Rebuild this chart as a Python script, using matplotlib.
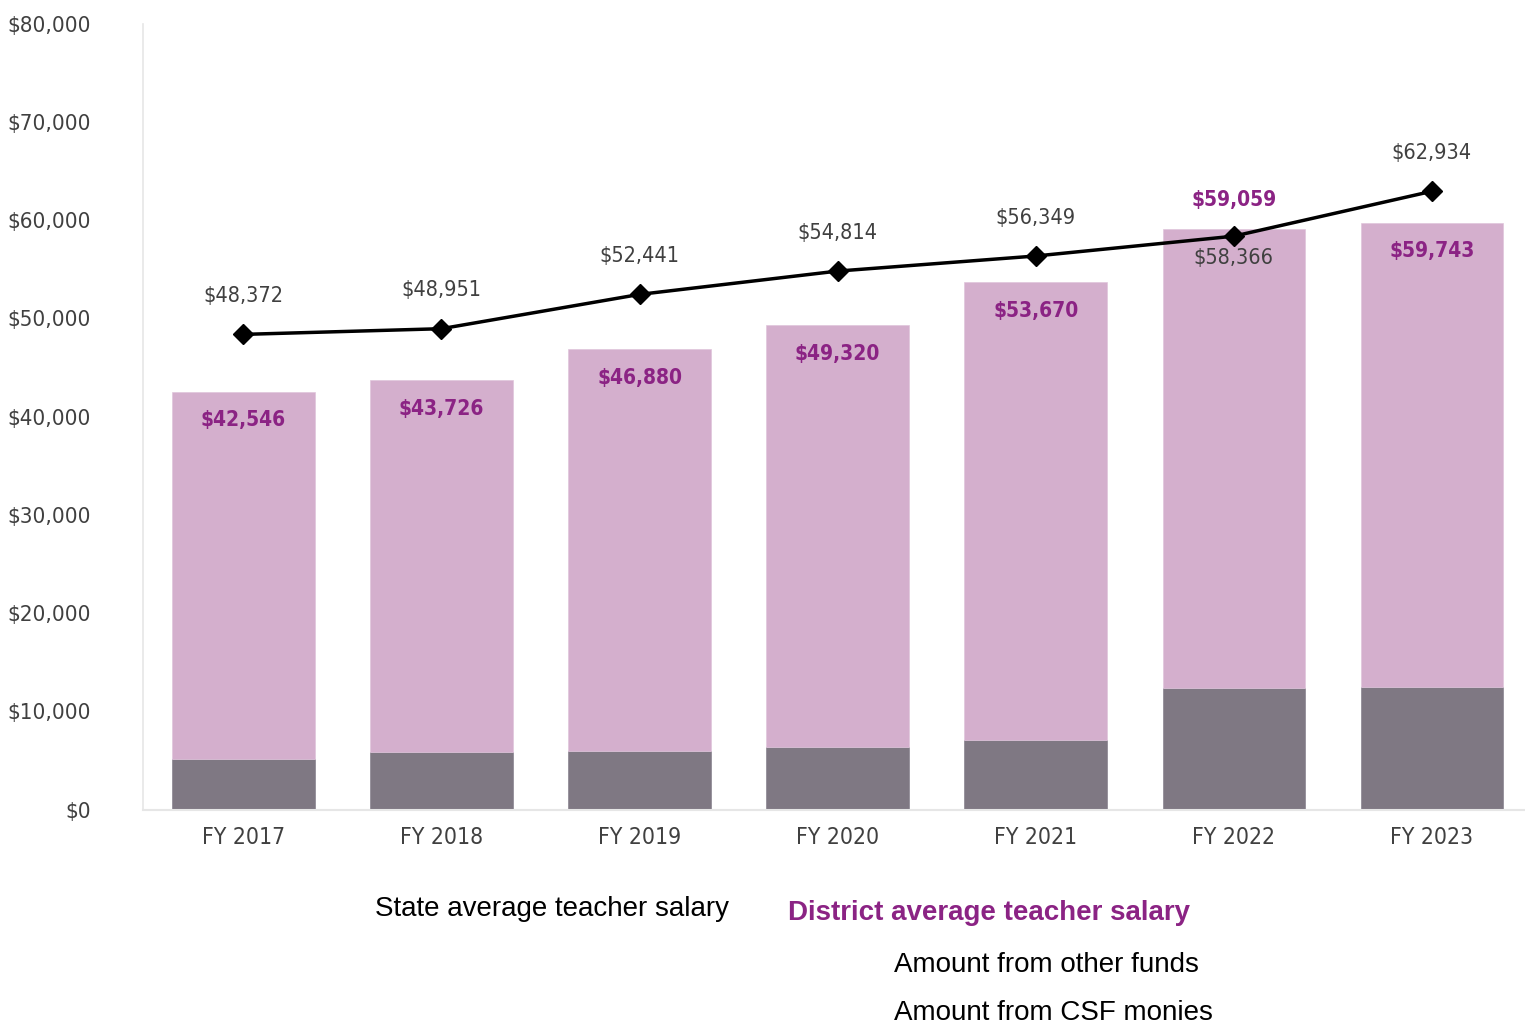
import matplotlib
matplotlib.use("Agg")
import matplotlib.pyplot as plt
import numpy as np

# -----------------------------
# Data
# -----------------------------
years = ["FY 2017", "FY 2018", "FY 2019", "FY 2020", "FY 2021", "FY 2022", "FY 2023"]
district_salary = [42546, 43726, 46880, 49320, 53670, 59059, 59743]
csf_amount = [5200, 5900, 6000, 6400, 7100, 12400, 12450]
state_salary = [48372, 48951, 52441, 54814, 56349, 58366, 62934]

other_funds = [d - c for d, c in zip(district_salary, csf_amount)]

# -----------------------------
# Style
# -----------------------------
narrow = dict(family="DejaVu Sans", fontstretch="condensed")
pink = "#D4AFCD"
grey = "#7F7883"
purple = "#8B2384"
label_grey = "#404040"

fig = plt.figure(figsize=(15.25, 10.25), dpi=100)
ax = fig.add_axes([0.094, 0.210, 0.906, 0.767])

x = np.arange(len(years))
ax.bar(x, csf_amount, width=0.72, color=grey, edgecolor="#8a8490", linewidth=0.5)
ax.bar(x, other_funds, width=0.72, bottom=csf_amount, color=pink,
       edgecolor="#e0c6dc", linewidth=0.5)
ax.plot(x, state_salary, color="black", linewidth=2.5, marker="D",
        markersize=10, zorder=5)

# data labels
for i in range(len(years)):
    if i == 5:
        # district label above bar, state label below point
        ax.text(x[i], district_salary[i] + 3000, f"${district_salary[i]:,}",
                ha="center", va="center", color=purple, fontsize=15,
                fontweight="bold", **narrow)
        ax.text(x[i], state_salary[i] - 2200, f"${state_salary[i]:,}",
                ha="center", va="center", color=label_grey, fontsize=15.5,
                **narrow)
    else:
        ax.text(x[i], district_salary[i] - 2900, f"${district_salary[i]:,}",
                ha="center", va="center", color=purple, fontsize=15,
                fontweight="bold", **narrow)
        ax.text(x[i], state_salary[i] + 3900, f"${state_salary[i]:,}",
                ha="center", va="center", color=label_grey, fontsize=15.5,
                **narrow)

ax.set_xlim(-0.505, 6.47)
ax.set_ylim(0, 80000)
ax.set_yticks(np.arange(0, 80001, 10000))
ax.set_yticklabels([f"${v:,}" for v in range(0, 80001, 10000)],
                   fontsize=16, color=label_grey, **narrow)
ax.set_xticks(x)
ax.set_xticklabels(years, fontsize=16.5, color=label_grey, **narrow)
ax.tick_params(axis="both", length=0)
ax.tick_params(axis="y", pad=38)
ax.tick_params(axis="x", pad=12)

for s in ["top", "right"]:
    ax.spines[s].set_visible(False)
ax.spines["left"].set_color("#E6E6E6")
ax.spines["bottom"].set_color("#E6E6E6")
ax.spines["left"].set_linewidth(1.2)
ax.spines["bottom"].set_linewidth(1.5)

# legend texts (no swatches in the original)
lfont = ["Liberation Sans", "DejaVu Sans"]
fig.text(0.246, 0.113, "State average teacher salary", fontsize=20,
         family=lfont, color="black", va="center")
fig.text(0.517, 0.109, "District average teacher salary", fontsize=20,
         fontweight="bold", family=lfont, color=purple, va="center")
fig.text(0.586, 0.059, "Amount from other funds", fontsize=20,
         family=lfont, color="black", va="center")
fig.text(0.586, 0.012, "Amount from CSF monies", fontsize=20,
         family=lfont, color="black", va="center")

fig.savefig("out.png", dpi=100)
